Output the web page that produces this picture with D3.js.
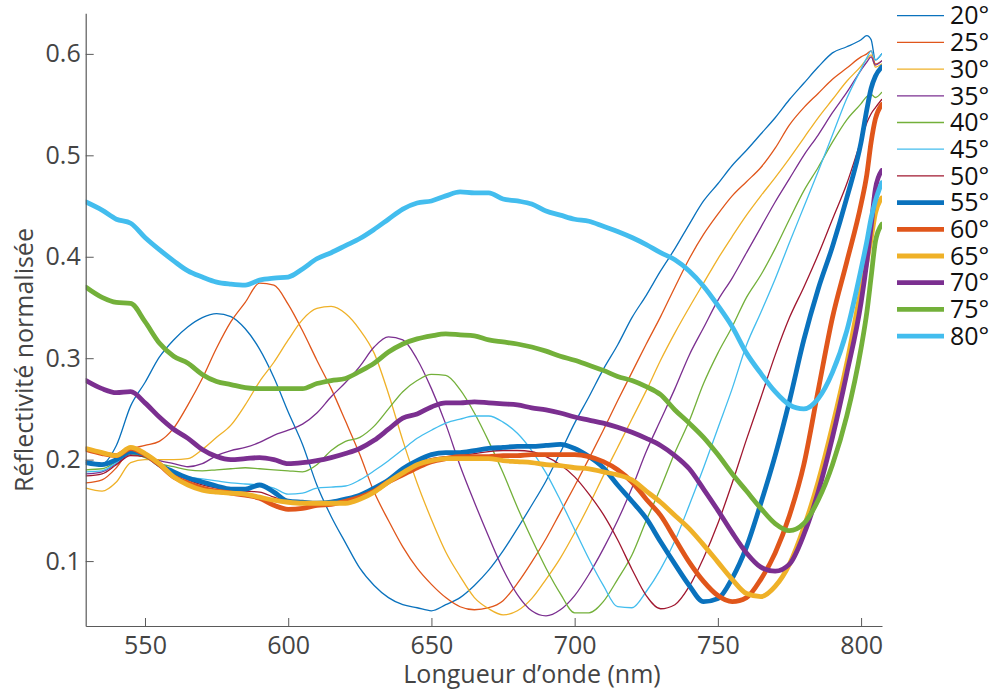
<!DOCTYPE html>
<html>
<head>
<meta charset="utf-8">
<script src="https://cdn.jsdelivr.net/npm/d3@7"></script>
<style>
  html, body { margin: 0; padding: 0; background: #fff; }
  svg { display: block; font-family: "Open Sans", "Noto Sans", sans-serif; }
</style>
</head>
<body>
<svg id="chart" width="990" height="693"></svg>
<script>
// ---------- data ----------
const wavelengths = [529.4, 535, 540, 545, 550, 555, 560, 565, 570, 575, 580, 585, 590, 595, 600,
  605, 610, 615, 620, 625, 630, 635, 640, 645, 650, 655, 660, 665, 670, 675, 680, 685, 690, 695, 700,
  705, 710, 715, 720, 725, 730, 735, 740, 745, 750, 755, 760, 765, 770, 775, 780, 785, 790, 795, 800,
  802, 803.5, 805, 807.2];

const angleLabels = ["20°", "25°", "30°", "35°", "40°", "45°", "50°", "55°", "60°", "65°", "70°", "75°", "80°"];

const r20 = [0.197,0.196,0.214,0.253,0.276, 0.301,0.318,0.331,0.340,0.344, 0.341,0.329,0.309,0.281,0.247,
  0.215,0.175,0.144,0.118,0.093, 0.076,0.064,0.057,0.054,0.051, 0.057,0.064,0.076,0.091,0.110,
  0.132,0.155,0.179,0.207,0.236, 0.262,0.289,0.313,0.340,0.362, 0.386,0.408,0.432,0.455,0.472,
  0.490,0.505,0.521,0.537,0.555, 0.571,0.587,0.601,0.607,0.614, 0.618,0.614,0.594,0.600];
const r25 = [0.177,0.180,0.192,0.210,0.214, 0.218,0.231,0.254,0.280,0.310, 0.336,0.355,0.374,0.372,0.353,
  0.327,0.298,0.270,0.238,0.205, 0.168,0.140,0.114,0.093,0.077, 0.064,0.055,0.052,0.054,0.061,
  0.078,0.099,0.122,0.148,0.174, 0.201,0.229,0.258,0.286,0.314, 0.341,0.370,0.398,0.422,0.442,
  0.460,0.474,0.488,0.507,0.530, 0.547,0.561,0.575,0.586,0.597, 0.600,0.603,0.590,0.593];
const r30 = [0.172,0.169,0.178,0.197,0.200, 0.200,0.200,0.201,0.210,0.222, 0.234,0.254,0.277,0.296,0.318,
  0.338,0.349,0.351,0.344,0.328, 0.305,0.265,0.219,0.177,0.141, 0.109,0.085,0.064,0.053,0.047,
  0.051,0.063,0.082,0.103,0.128, 0.155,0.184,0.212,0.240,0.268, 0.298,0.325,0.350,0.374,0.398,
  0.420,0.441,0.460,0.478,0.497, 0.517,0.537,0.555,0.573,0.588, 0.595,0.599,0.587,0.590];
const r35 = [0.186,0.188,0.196,0.205,0.203, 0.199,0.196,0.193,0.196,0.204, 0.209,0.212,0.217,0.224,0.229,
  0.235,0.246,0.262,0.276,0.292, 0.311,0.321,0.318,0.299,0.270, 0.235,0.194,0.158,0.124,0.092,
  0.067,0.051,0.046,0.052,0.066, 0.087,0.112,0.140,0.172,0.208, 0.239,0.270,0.303,0.330,0.357,
  0.379,0.404,0.429,0.454,0.477, 0.500,0.520,0.542,0.562,0.584, 0.592,0.597,0.589,0.593];
const r40 = [0.190,0.191,0.198,0.206,0.202, 0.196,0.193,0.190,0.189,0.190, 0.191,0.192,0.191,0.190,0.189,
  0.188,0.195,0.209,0.218,0.222, 0.233,0.250,0.267,0.278,0.284, 0.283,0.269,0.246,0.218,0.187,
  0.153,0.122,0.093,0.068,0.049, 0.049,0.060,0.082,0.106,0.140, 0.172,0.207,0.238,0.275,0.305,
  0.331,0.360,0.382,0.408,0.437, 0.465,0.488,0.513,0.535,0.551, 0.558,0.560,0.557,0.562];
const r45 = [0.188,0.189,0.197,0.207,0.203, 0.193,0.186,0.183,0.181,0.179, 0.177,0.176,0.175,0.172,0.166,
  0.167,0.172,0.173,0.174,0.180, 0.189,0.199,0.210,0.221,0.229, 0.236,0.240,0.243,0.243,0.237,
  0.226,0.209,0.187,0.160,0.131, 0.102,0.076,0.055,0.054,0.070, 0.092,0.120,0.155,0.192,0.231,
  0.270,0.313,0.345,0.378,0.414, 0.449,0.484,0.520,0.556,0.585, 0.596,0.603,0.594,0.600];
const r50 = [0.184,0.186,0.195,0.204,0.203, 0.194,0.186,0.180,0.175,0.172, 0.170,0.169,0.168,0.163,0.158,
  0.156,0.155,0.156,0.158,0.163, 0.170,0.180,0.190,0.197,0.201, 0.203,0.204,0.206,0.208,0.209,
  0.209,0.208,0.203,0.195,0.183, 0.166,0.146,0.121,0.092,0.066, 0.053,0.057,0.075,0.103,0.137,
  0.177,0.220,0.261,0.303,0.340, 0.370,0.402,0.437,0.472,0.515, 0.532,0.541,0.547,0.555];
const r55 = [0.197,0.195,0.200,0.208,0.205, 0.195,0.188,0.182,0.178,0.174, 0.171,0.171,0.175,0.168,0.159,
  0.158,0.157,0.158,0.161,0.165, 0.172,0.180,0.191,0.199,0.205, 0.207,0.207,0.209,0.211,0.212,
  0.213,0.213,0.214,0.215,0.211, 0.203,0.192,0.175,0.159,0.142, 0.119,0.097,0.076,0.060,0.063,
  0.083,0.114,0.157,0.204,0.258, 0.318,0.368,0.410,0.458,0.513, 0.545,0.566,0.578,0.587];
const r60 = [0.210,0.206,0.204,0.211,0.205, 0.195,0.183,0.177,0.172,0.169, 0.167,0.165,0.162,0.155,0.151,
  0.152,0.155,0.156,0.159,0.163, 0.169,0.178,0.185,0.192,0.198, 0.201,0.203,0.203,0.203,0.204,
  0.204,0.205,0.205,0.205,0.205, 0.203,0.198,0.190,0.178,0.161, 0.145,0.122,0.099,0.080,0.066,
  0.060,0.064,0.082,0.108,0.145, 0.195,0.268,0.340,0.395,0.452, 0.481,0.513,0.536,0.550];
const r65 = [0.211,0.207,0.204,0.212,0.206, 0.196,0.183,0.175,0.170,0.168, 0.167,0.166,0.163,0.160,0.158,
  0.157,0.157,0.157,0.157,0.161, 0.168,0.178,0.187,0.195,0.199, 0.201,0.201,0.201,0.201,0.199,
  0.198,0.197,0.195,0.194,0.192, 0.191,0.188,0.185,0.180,0.169, 0.158,0.145,0.132,0.116,0.099,
  0.082,0.068,0.065,0.075,0.097, 0.133,0.178,0.233,0.295,0.368, 0.395,0.418,0.443,0.458];
const r70 = [0.278,0.270,0.266,0.267,0.256, 0.242,0.230,0.221,0.210,0.203, 0.200,0.201,0.202,0.200,0.196,
  0.197,0.199,0.202,0.206,0.211, 0.219,0.230,0.241,0.245,0.252, 0.256,0.256,0.257,0.256,0.255,
  0.254,0.251,0.249,0.246,0.242, 0.239,0.236,0.232,0.227,0.221, 0.214,0.204,0.191,0.171,0.150,
  0.128,0.108,0.094,0.090,0.097, 0.126,0.168,0.222,0.285,0.355, 0.395,0.430,0.467,0.485];
const r75 = [0.370,0.360,0.355,0.354,0.336, 0.315,0.302,0.295,0.284,0.277, 0.274,0.271,0.270,0.270,0.270,
  0.270,0.275,0.278,0.280,0.287, 0.295,0.306,0.314,0.319,0.322, 0.324,0.323,0.322,0.318,0.316,
  0.314,0.311,0.307,0.302,0.298, 0.293,0.288,0.282,0.278,0.272, 0.264,0.249,0.236,0.222,0.205,
  0.186,0.169,0.152,0.137,0.130, 0.137,0.160,0.195,0.243,0.310, 0.345,0.380,0.415,0.432];
const r80 = [0.454,0.446,0.437,0.433,0.419, 0.407,0.396,0.386,0.380,0.375, 0.373,0.372,0.377,0.379,0.380,
  0.388,0.398,0.404,0.411,0.418, 0.427,0.437,0.447,0.453,0.455, 0.460,0.464,0.463,0.463,0.457,
  0.455,0.452,0.445,0.441,0.437, 0.435,0.430,0.425,0.419,0.412, 0.404,0.397,0.386,0.371,0.352,
  0.331,0.305,0.285,0.267,0.254, 0.250,0.260,0.286,0.327,0.388, 0.415,0.438,0.455,0.473];

const seriesValues = [r20, r25, r30, r35, r40, r45, r50, r55, r60, r65, r70, r75, r80];
const seriesColors = ["#0a72bd", "#e0561b", "#efb128", "#7b2f90", "#73b03a", "#43bdee", "#a0172f",
                      "#0a72bd", "#e0561b", "#efb128", "#7b2f90", "#73b03a", "#43bdee"];
const seriesThick = [false, false, false, false, false, false, false, true, true, true, true, true, true];

const xTicks = [550, 600, 650, 700, 750, 800];
const yTicks = [0.1, 0.2, 0.3, 0.4, 0.5, 0.6];

// ---------- layout ----------
const plot = { left: 85.7, right: 882, top: 13.3, bottom: 626 };
const svg = d3.select("#chart");

const x = d3.scaleLinear().domain([529.3, 807.3]).range([plot.left, plot.right]);
const y = d3.scaleLinear().domain([0.036, 0.640]).range([plot.bottom, plot.top]);

const axisColor = "#5a5a5a";
const textColor = "#444";
const fontSize = 25;

svg.append("defs").append("clipPath").attr("id", "clip")
  .append("rect").attr("x", plot.left).attr("y", plot.top)
  .attr("width", plot.right - plot.left).attr("height", plot.bottom - plot.top);

// lines
const line = d3.line()
  .x((d, i) => x(wavelengths[i]))
  .y(d => y(d))
  .curve(d3.curveMonotoneX);

const lines = svg.append("g").attr("clip-path", "url(#clip)");
seriesValues.forEach((vals, k) => {
  lines.append("path")
    .datum(vals)
    .attr("d", line)
    .attr("fill", "none")
    .attr("stroke", seriesColors[k])
    .attr("stroke-width", seriesThick[k] ? 4.8 : 1.3)
    .attr("stroke-linejoin", "round")
    .attr("stroke-linecap", "round");
});

// axes
const xAxis = d3.axisBottom(x).tickValues(xTicks).tickSize(-8).tickSizeOuter(0).tickPadding(10.5)
  .tickFormat(d3.format("d"));
const yAxis = d3.axisLeft(y).tickValues(yTicks).tickSize(-8).tickSizeOuter(0).tickPadding(5)
  .tickFormat(d3.format(".1f"));

const gx = svg.append("g").attr("transform", `translate(0,${plot.bottom})`).call(xAxis);
const gy = svg.append("g").attr("transform", `translate(${plot.left},0)`).call(yAxis);
[gx, gy].forEach(g => {
  g.select(".domain").attr("stroke", axisColor).attr("stroke-width", 1.2);
  g.selectAll(".tick line").attr("stroke", axisColor).attr("stroke-width", 1);
  g.selectAll(".tick text").attr("fill", textColor)
    .style("font-size", fontSize + "px")
    .style("font-family", '"Open Sans", "Noto Sans", sans-serif');
});

// axis titles
svg.append("text")
  .attr("x", 532).attr("y", 683)
  .attr("text-anchor", "middle")
  .attr("fill", textColor)
  .style("font-size", fontSize + "px")
  .text("Longueur d’onde (nm)");

svg.append("text")
  .attr("transform", "translate(33,360) rotate(-90)")
  .attr("text-anchor", "middle")
  .attr("fill", textColor)
  .style("font-size", fontSize + "px")
  .text("Réflectivité normalisée");

// legend
const legend = svg.append("g");
angleLabels.forEach((lab, k) => {
  const ly = 15.7 + 26.7 * k;
  legend.append("line")
    .attr("x1", 897).attr("x2", 944).attr("y1", ly).attr("y2", ly)
    .attr("stroke", seriesColors[k])
    .attr("stroke-width", seriesThick[k] ? 4.8 : 1.3);
  legend.append("text")
    .attr("x", 950).attr("y", ly)
    .attr("dy", "0.35em")
    .attr("fill", "#111")
    .style("font-size", fontSize + "px")
    .text(lab);
});
</script>
</body>
</html>
